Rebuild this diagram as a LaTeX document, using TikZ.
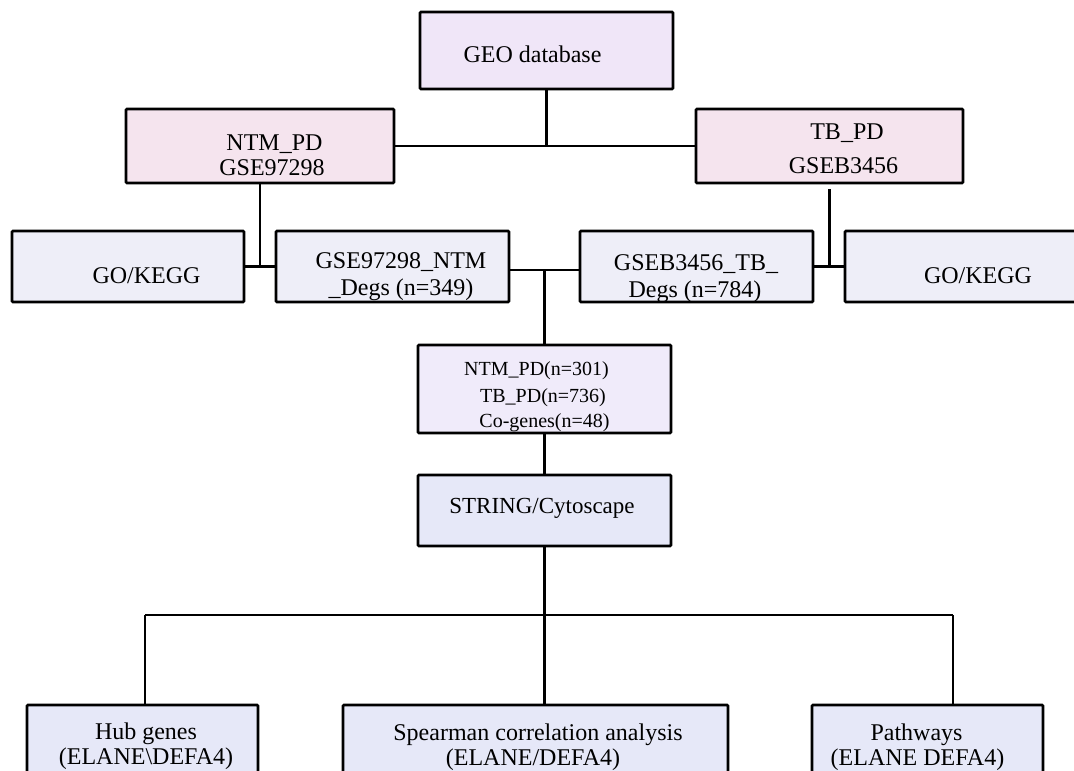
\documentclass[tikz,border=0pt]{standalone}
\usepackage{fontspec}
\setmainfont{Liberation Serif}
\definecolor{geofill}{HTML}{F0E6F8}
\definecolor{pdfill}{HTML}{F5E4EE}
\definecolor{gofill}{HTML}{EEEEF8}
\definecolor{cenfill}{HTML}{F0EBFA}
\definecolor{strfill}{HTML}{E6E8F8}
\begin{document}
\begin{tikzpicture}[x=1pt,y=-1pt,
  box/.style={draw=black,line width=2.6pt,rounded corners=1pt,inner sep=0pt},
  conn/.style={line width=2.4pt,draw=black},
  lbl/.style={anchor=base,inner sep=0pt,font=\fontsize{24}{28}\selectfont},
  lblsm/.style={anchor=base,inner sep=0pt,font=\fontsize{20}{24}\selectfont}]
\clip (0,0) rectangle (1074,771);
\fill[white] (0,0) rectangle (1074,771);

% boxes
\node[box,fill=geofill,minimum width=253pt,minimum height=77pt] (geo) at (546.5,50.5) {};
\node[box,fill=pdfill,minimum width=268pt,minimum height=74pt] (ntm) at (260,146) {};
\node[box,fill=pdfill,minimum width=267pt,minimum height=74pt] (tb) at (829.5,146) {};
\node[box,fill=gofill,minimum width=232pt,minimum height=71pt] (gol) at (128,266.5) {};
\node[box,fill=gofill,minimum width=233pt,minimum height=71pt] (gse) at (392.5,266.5) {};
\node[box,fill=gofill,minimum width=233pt,minimum height=71pt] (gseb) at (696.5,266.5) {};
\node[box,fill=gofill,minimum width=255pt,minimum height=71pt] (gor) at (972.5,266.5) {};
\node[box,fill=cenfill,minimum width=253pt,minimum height=88pt] (cen) at (544.5,389) {};
\node[box,fill=strfill,minimum width=253pt,minimum height=71pt] (str) at (544.5,510.5) {};
\node[box,fill=strfill,minimum width=231pt,minimum height=100pt] (hub) at (142.5,755) {};
\node[box,fill=strfill,minimum width=385pt,minimum height=100pt] (spe) at (535.5,755) {};
\node[box,fill=strfill,minimum width=231pt,minimum height=100pt] (pat) at (927.5,755) {};

% connectors
\coordinate (j1) at (geo.south |- ntm.east);
\draw[conn] (geo.south) -- (j1);
\draw[conn] (ntm.east) -- (tb.west);
\draw[conn] (ntm.south) -- (ntm.south |- gol.east);
\draw[conn] (gol.east) -- (gse.west);
\draw[conn] ([yshift=-5pt]tb.south) -- (tb.south |- gor.west);
\draw[conn] (gseb.east) -- (gor.west);
\draw[conn] ([yshift=-3.5pt]gse.east) -- ([yshift=-3.5pt]gseb.west);
\coordinate (j2) at (544.5,270);
\draw[conn] (j2) -- (cen.north);
\draw[conn] (cen.south) -- (str.north);
\coordinate (j3) at (544.5,615);
\coordinate (jl) at (145,615);
\coordinate (jr) at (953,615);
\draw[conn] (str.south) -- (j3);
\draw[conn] (jl) -- (jr);
\draw[conn] (jl) -- (jl |- hub.north);
\draw[conn] (j3) -- (j3 |- spe.north);
\draw[conn] (jr) -- (jr |- pat.north);

% labels
\node[lbl] (tgeo) at (532.5,62) {GEO database};
\node[lbl] (tntm1) at (274.5,150) {NTM\_PD};
\node[lbl] (tntm2) at (272,175) {GSE97298};
\node[lbl] (ttb1) at (847,139) {TB\_PD};
\node[lbl] (ttb2) at (843.5,173) {GSEB3456};
\node[lbl] (tgol) at (146.5,283) {GO/KEGG};
\node[lbl] (tgor) at (978,283) {GO/KEGG};
\node[lbl] (tgse1) at (401,268) {GSE97298\_NTM};
\node[lbl] (tgse2) at (401,295) {\_Degs (n=349)};
\node[lbl] (tgseb1) at (696,270) {GSEB3456\_TB\_};
\node[lbl] (tgseb2) at (695,297) {Degs (n=784)};
\node[lblsm] (tc1) at (536.5,375) {NTM\_PD(n=301)};
\node[lblsm] (tc2) at (543,402) {TB\_PD(n=736)};
\node[lblsm] (tc3) at (544.5,427) {Co-genes(n=48)};
\node[lbl,font=\fontsize{23}{27}\selectfont] (tstr) at (542,513) {STRING/Cytoscape};
\node[lbl] (thub1) at (146,739) {Hub genes};
\node[lbl] (thub2) at (146,764) {(ELANE\textbackslash DEFA4)};
\node[lbl] (tspe1) at (538,740) {Spearman correlation analysis};
\node[lbl] (tspe2) at (533,765) {(ELANE/DEFA4)};
\node[lbl] (tpat1) at (916.5,740) {Pathways};
\node[lbl] (tpat2) at (917.5,765) {(ELANE DEFA4)};
\end{tikzpicture}
\end{document}
